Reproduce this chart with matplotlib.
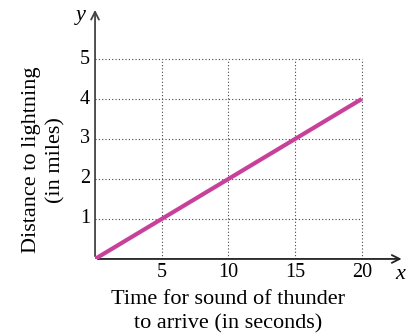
import numpy as np
import matplotlib
matplotlib.use("Agg")
import matplotlib.pyplot as plt

plt.rcParams['font.family'] = ['Liberation Serif', 'DejaVu Serif']

# data
time_s = [0, 20]
distance_mi = [0, 4]
x_ticks = [5, 10, 15, 20]
y_ticks = [1, 2, 3, 4, 5]

fig = plt.figure(figsize=(4.15, 3.35), dpi=100)
ax = fig.add_axes([0.229, 0.227, 0.747, 0.749])
ax.set_xlim(0, 23.25)
ax.set_ylim(0, 6.275)
for s in ax.spines.values():
    s.set_visible(False)
ax.set_xticks([])
ax.set_yticks([])

# dotted grid limited to the data area
ax.vlines(x_ticks, 0, max(y_ticks), colors='#444444', linestyles=(0, (1, 2)), linewidth=0.8)
ax.hlines(y_ticks, 0, max(x_ticks), colors='#444444', linestyles=(0, (1, 2)), linewidth=0.8)

# axes with arrows
ax.annotate('', xy=(23.2, 0), xytext=(0, 0), annotation_clip=False,
            arrowprops=dict(arrowstyle='->', color='#222222', lw=1.3, mutation_scale=14))
ax.annotate('', xy=(0, 6.3), xytext=(0, 0), annotation_clip=False,
            arrowprops=dict(arrowstyle='->', color='#444444', lw=1.3, mutation_scale=14))

ax.plot(time_s, distance_mi, color='#C8409A', linewidth=3, solid_capstyle='butt', zorder=5)

for t in x_ticks:
    ax.text(t, -0.33, str(t), ha='center', va='center', fontsize=14.5)
for t in y_ticks:
    ax.text(-0.75, t, str(t), ha='center', va='center', fontsize=14.5)

ax.text(22.9, -0.4, 'x', style='italic', ha='center', va='center', fontsize=16)
ax.text(-1.1, 6.1, 'y', style='italic', ha='center', va='center', fontsize=16)

fig.text(0.549, 0.07, 'Time for sound of thunder\nto arrive (in seconds)',
         ha='center', va='center', fontsize=16, linespacing=1.4)
fig.text(0.105, 0.522, 'Distance to lightning\n(in miles)', rotation=90,
         ha='center', va='center', fontsize=16, linespacing=1.4)

fig.savefig('out.png', dpi=100)
